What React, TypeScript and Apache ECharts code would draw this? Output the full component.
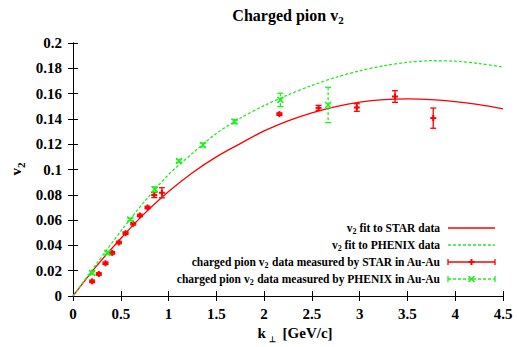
import React, { useEffect, useRef } from "react";
import * as echarts from "echarts";

// Fit curves (sampled along k_perp)
const fitK = [0, 0.25, 0.5, 0.75, 1.0, 1.25, 1.5, 1.75, 2.0, 2.25, 2.5, 2.75, 3.0, 3.25, 3.5, 3.75, 4.0, 4.25, 4.5];
const starFit = [0, 0.024, 0.0455, 0.0653, 0.0826, 0.0975, 0.11, 0.1205, 0.1305, 0.1385, 0.1448, 0.1497, 0.1532, 0.1552, 0.1558, 0.1553, 0.1537, 0.1512, 0.148];
const phenixFit = [0, 0.0258, 0.0512, 0.0748, 0.096, 0.1128, 0.1285, 0.1405, 0.1505, 0.159, 0.1665, 0.1728, 0.178, 0.182, 0.1847, 0.186, 0.1856, 0.1838, 0.181];

// STAR measurements: k_perp, v2, error
const starK = [0.2, 0.27, 0.34, 0.41, 0.48, 0.55, 0.63, 0.7, 0.78, 0.85, 0.93, 2.16, 2.57, 2.97, 3.37, 3.77];
const starV = [0.0116, 0.0174, 0.0259, 0.0341, 0.0423, 0.0497, 0.0571, 0.0637, 0.07, 0.0798, 0.0816, 0.1438, 0.1487, 0.149, 0.1577, 0.1406];
const starErr = [0.001, 0.001, 0.001, 0.001, 0.001, 0.001, 0.001, 0.001, 0.001, 0.002, 0.004, 0.001, 0.002, 0.003, 0.0046, 0.008];

// PHENIX measurements: k_perp, v2, error
const phenixK = [0.2, 0.36, 0.6, 0.855, 1.11, 1.36, 1.69, 2.17, 2.67];
const phenixV = [0.0182, 0.0341, 0.0605, 0.0843, 0.1067, 0.1194, 0.1379, 0.155, 0.151];
const phenixErr = [0.001, 0.001, 0.001, 0.002, 0.001, 0.0015, 0.0015, 0.0053, 0.014];

// Axis ticks
const xTicks = ["0", "0.5", "1", "1.5", "2", "2.5", "3", "3.5", "4", "4.5"];
const yTicks = ["0", "0.02", "0.04", "0.06", "0.08", "0.1", "0.12", "0.14", "0.16", "0.18", "0.2"];

const legendLabels = [
  ["fit to STAR data"],
  ["fit to PHENIX data"],
  ["charged pion ", " data measured by STAR in Au-Au"],
  ["charged pion ", " data measured by PHENIX in Au-Au"],
];

const RED = "#ff0000";
const GREEN = "#22ee22";
const FONT = "'Liberation Serif', 'Times New Roman', serif";

const W = 519;
const H = 347;

function sub(size: number, lh: number) {
  return {
    n: { fontFamily: FONT, fontWeight: "bold", fontSize: size, color: "#000", lineHeight: lh },
    s: { fontFamily: FONT, fontWeight: "bold", fontSize: Math.round(size * 0.7), color: "#000", lineHeight: Math.round(size * 0.7), verticalAlign: "bottom" },
  };
}

function errorMarks(api: any, color: string, dashed: boolean, marker: "plus" | "cross") {
  const x = api.value(0);
  const y = api.value(1);
  const e = api.value(2);
  const c = api.coord([x, y]);
  const top = api.coord([x, y + e]);
  const bot = api.coord([x, y - e]);
  const cap = 3;
  const m = 3;
  const barStyle: any = { stroke: color, lineWidth: 1.3 };
  if (dashed) barStyle.lineDash = [3, 2];
  const children: any[] = [
    { type: "line", shape: { x1: c[0], y1: top[1], x2: c[0], y2: bot[1] }, style: barStyle },
    { type: "line", shape: { x1: c[0] - cap, y1: top[1], x2: c[0] + cap, y2: top[1] }, style: { stroke: color, lineWidth: 1.3 } },
    { type: "line", shape: { x1: c[0] - cap, y1: bot[1], x2: c[0] + cap, y2: bot[1] }, style: { stroke: color, lineWidth: 1.3 } },
  ];
  if (marker === "plus") {
    children.push(
      { type: "line", shape: { x1: c[0] - m, y1: c[1], x2: c[0] + m, y2: c[1] }, style: { stroke: color, lineWidth: 2 } },
      { type: "line", shape: { x1: c[0], y1: c[1] - m, x2: c[0], y2: c[1] + m }, style: { stroke: color, lineWidth: 2 } }
    );
  } else {
    children.push(
      { type: "line", shape: { x1: c[0] - m, y1: c[1] - m, x2: c[0] + m, y2: c[1] + m }, style: { stroke: color, lineWidth: 1.6 } },
      { type: "line", shape: { x1: c[0] - m, y1: c[1] + m, x2: c[0] + m, y2: c[1] - m }, style: { stroke: color, lineWidth: 1.6 } }
    );
  }
  return { type: "group", children };
}

function legendGraphics() {
  const rows = [228, 245, 262, 279];
  const textRight = 440;
  const x1 = 448;
  const x2 = 495;
  const xm = (x1 + x2) / 2;
  const out: any[] = [];
  rows.forEach((y, i) => {
    const parts = legendLabels[i];
    const text = parts.length === 1 ? `{n|v}{s|2}{n| ${parts[0]}}` : `{n|${parts[0]}v}{s|2}{n|${parts[1]}}`;
    out.push({
      type: "text",
      x: textRight,
      y,
      style: { text, align: "right", verticalAlign: "middle", rich: sub(11.5, 15) },
    });
  });
  out.push({ type: "line", shape: { x1, y1: rows[0], x2, y2: rows[0] }, style: { stroke: RED, lineWidth: 1.3 } });
  out.push({ type: "line", shape: { x1, y1: rows[1], x2, y2: rows[1] }, style: { stroke: GREEN, lineWidth: 1.3, lineDash: [3, 2] } });
  // STAR sample
  const y3 = rows[2];
  out.push({ type: "line", shape: { x1, y1: y3, x2, y2: y3 }, style: { stroke: RED, lineWidth: 1.3 } });
  out.push({ type: "line", shape: { x1, y1: y3 - 3, x2: x1, y2: y3 + 3 }, style: { stroke: RED, lineWidth: 1.3 } });
  out.push({ type: "line", shape: { x1: x2, y1: y3 - 3, x2, y2: y3 + 3 }, style: { stroke: RED, lineWidth: 1.3 } });
  out.push({ type: "line", shape: { x1: xm - 3, y1: y3, x2: xm + 3, y2: y3 }, style: { stroke: RED, lineWidth: 2 } });
  out.push({ type: "line", shape: { x1: xm, y1: y3 - 3, x2: xm, y2: y3 + 3 }, style: { stroke: RED, lineWidth: 2 } });
  // PHENIX sample
  const y4 = rows[3];
  out.push({ type: "line", shape: { x1, y1: y4, x2, y2: y4 }, style: { stroke: GREEN, lineWidth: 1.3, lineDash: [3, 2] } });
  out.push({ type: "line", shape: { x1, y1: y4 - 3, x2: x1, y2: y4 + 3 }, style: { stroke: GREEN, lineWidth: 1.3 } });
  out.push({ type: "line", shape: { x1: x2, y1: y4 - 3, x2, y2: y4 + 3 }, style: { stroke: GREEN, lineWidth: 1.3 } });
  out.push({ type: "line", shape: { x1: xm - 3, y1: y4 - 3, x2: xm + 3, y2: y4 + 3 }, style: { stroke: GREEN, lineWidth: 1.6 } });
  out.push({ type: "line", shape: { x1: xm - 3, y1: y4 + 3, x2: xm + 3, y2: y4 - 3 }, style: { stroke: GREEN, lineWidth: 1.6 } });
  return out;
}

export default function App() {
  const ref = useRef<HTMLDivElement>(null);

  useEffect(() => {
    document.body.style.margin = "0";
    if (!ref.current) return;
    const chart = echarts.init(ref.current, null, { renderer: "svg" });

    const axisLine = { show: true, lineStyle: { color: "#000", width: 1 } };
    const tick = { show: true, inside: true, length: 5, lineStyle: { color: "#000", width: 1 } };
    const label = { fontFamily: FONT, fontWeight: "bold" as const, fontSize: 15, color: "#000" };

    chart.setOption({
      animation: false,
      backgroundColor: "#fff",
      grid: { left: 73, right: 16, top: 43, bottom: 51, containLabel: false },
      xAxis: [
        {
          type: "value", min: 0, max: 4.5, interval: 0.5, position: "bottom",
          axisLine, axisTick: tick, splitLine: { show: false },
          axisLabel: { ...label, margin: 10, formatter: (v: number) => xTicks[Math.round(v / 0.5)] ?? "" },
        },
        {
          type: "value", min: 0, max: 4.5, interval: 0.5, position: "top",
          axisLine, axisTick: tick, splitLine: { show: false }, axisLabel: { show: false },
        },
      ],
      yAxis: [
        {
          type: "value", min: 0, max: 0.2, interval: 0.02, position: "left",
          axisLine, axisTick: tick, splitLine: { show: false },
          axisLabel: { ...label, margin: 11, formatter: (v: number) => yTicks[Math.round(v / 0.02)] ?? "" },
        },
        {
          type: "value", min: 0, max: 0.2, interval: 0.02, position: "right",
          axisLine, axisTick: tick, splitLine: { show: false }, axisLabel: { show: false },
        },
      ],
      series: [
        {
          name: "v2 fit to STAR data",
          type: "line",
          data: fitK.map((k, i) => [k, starFit[i]]),
          smooth: 0.3,
          showSymbol: false,
          lineStyle: { color: RED, width: 1.3 },
          z: 2,
        },
        {
          name: "v2 fit to PHENIX data",
          type: "line",
          data: fitK.map((k, i) => [k, phenixFit[i]]),
          smooth: 0.3,
          showSymbol: false,
          lineStyle: { color: GREEN, width: 1.3, type: [3, 2] },
          z: 2,
        },
        {
          name: "charged pion v2 data measured by STAR in Au-Au",
          type: "custom",
          data: starK.map((k, i) => [k, starV[i], starErr[i]]),
          encode: { x: 0, y: 1 },
          renderItem: (_p: any, api: any) => errorMarks(api, RED, false, "plus"),
          z: 3,
        },
        {
          name: "charged pion v2 data measured by PHENIX in Au-Au",
          type: "custom",
          data: phenixK.map((k, i) => [k, phenixV[i], phenixErr[i]]),
          encode: { x: 0, y: 1 },
          renderItem: (_p: any, api: any) => errorMarks(api, GREEN, true, "cross"),
          z: 3,
        },
      ],
      graphic: [
        {
          type: "text",
          x: 288,
          y: 15,
          style: { text: "{n|Charged pion v}{s|2}", align: "center", verticalAlign: "middle", rich: sub(16, 20) },
        },
        {
          type: "text",
          x: 295,
          y: 333,
          style: {
            text: "{n|k}{s|⊥}{n| [GeV/c]}",
            align: "center",
            verticalAlign: "middle",
            rich: {
              n: { fontFamily: FONT, fontWeight: "bold", fontSize: 15, color: "#000", lineHeight: 20 },
              s: { fontFamily: FONT, fontWeight: "bold", fontSize: 8, color: "#000", lineHeight: 8, verticalAlign: "bottom", padding: [0, 3, 0, 3] },
            },
          },
        },
        {
          type: "text",
          x: 16,
          y: 169,
          rotation: Math.PI / 2,
          style: { text: "{n|v}{s|2}", align: "center", verticalAlign: "middle", rich: sub(15, 20) },
        },
        ...legendGraphics(),
      ],
    });

    return () => chart.dispose();
  }, []);

  return <div ref={ref} style={{ width: W, height: H }} />;
}
